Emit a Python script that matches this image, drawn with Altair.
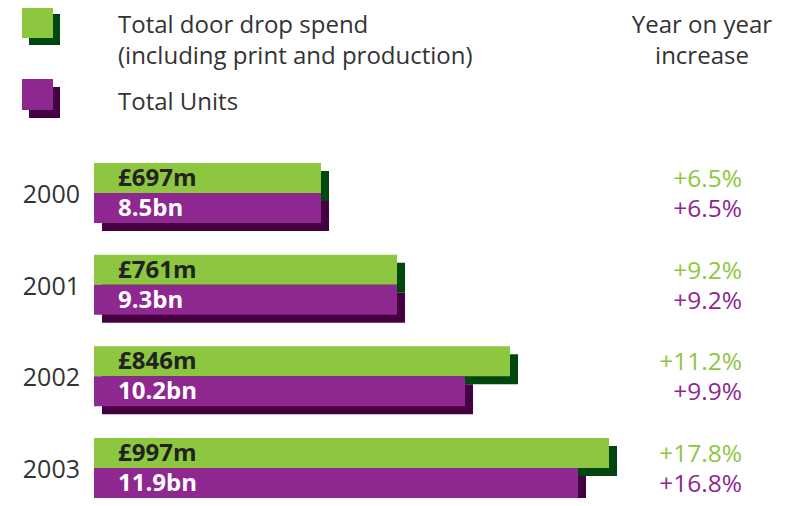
import altair as alt
import pandas as pd

# ---- data ----
years = ["2000", "2001", "2002", "2003"]
spend_labels = ["£697m", "£761m", "£846m", "£997m"]
units_labels = ["8.5bn", "9.3bn", "10.2bn", "11.9bn"]
# bar lengths as drawn in the original (not to scale with the labels)
spend_bar = [227, 303, 416, 515]
units_bar = [227, 303, 371, 484]
spend_yoy = ["+6.5%", "+9.2%", "+11.2%", "+17.8%"]
units_yoy = ["+6.5%", "+9.2%", "+9.9%", "+16.8%"]
series = ["spend", "units"]

rows = []
for i, yr in enumerate(years):
    rows.append(dict(year=yr, series="spend", length=spend_bar[i], label=spend_labels[i], yoy=spend_yoy[i]))
    rows.append(dict(year=yr, series="units", length=units_bar[i], label=units_labels[i], yoy=units_yoy[i]))
df = pd.DataFrame(rows)

GREEN = "#8dc63f"
DKGREEN = "#00460f"
PURPLE = "#8e278f"
DKPURPLE = "#440040"
GREY = "#333333"
FONT = "Open Sans"

XMAX = max(spend_bar)


def xenc(shift=0):
    return alt.X("length:Q", scale=alt.Scale(domain=[0, XMAX], range=[86 + shift, 86 + XMAX + shift]), axis=None)


def yenc(shift=0):
    return alt.Y("year:N", scale=alt.Scale(type="band", domain=years, range=[155 + shift, 490 + shift],
                                           paddingInner=0.3455, paddingOuter=0), axis=None)


yoff = alt.YOffset("series:N", scale=alt.Scale(type="band", domain=series, paddingInner=0, paddingOuter=0))

base = alt.Chart(df)

shadow_g = base.transform_filter("datum.series == 'spend'").mark_bar(color=DKGREEN).encode(
    x=xenc(8), y=yenc(8), yOffset=yoff)
shadow_p = base.transform_filter("datum.series == 'units'").mark_bar(color=DKPURPLE).encode(
    x=xenc(8), y=yenc(8), yOffset=yoff)
bar_g = base.transform_filter("datum.series == 'spend'").mark_bar(color=GREEN).encode(
    x=xenc(), y=yenc(), yOffset=yoff)
bar_p = base.transform_filter("datum.series == 'units'").mark_bar(color=PURPLE).encode(
    x=xenc(), y=yenc(), yOffset=yoff)

lab_g = base.transform_filter("datum.series == 'spend'").mark_text(
    align="left", baseline="middle", font=FONT, fontSize=24, fontWeight="bold", color="#222222", dy=1
).encode(x=alt.value(110), y=yenc(), yOffset=yoff, text="label:N")
lab_p = base.transform_filter("datum.series == 'units'").mark_text(
    align="left", baseline="middle", font=FONT, fontSize=24, fontWeight="bold", color="#ffffff", dy=1
).encode(x=alt.value(110), y=yenc(), yOffset=yoff, text="label:N")

yoy_g = base.transform_filter("datum.series == 'spend'").mark_text(
    align="right", baseline="middle", font=FONT, fontSize=24.5, color=GREEN, dy=2
).encode(x=alt.value(734), y=yenc(), yOffset=yoff, text="yoy:N")
yoy_p = base.transform_filter("datum.series == 'units'").mark_text(
    align="right", baseline="middle", font=FONT, fontSize=24.5, color=PURPLE, dy=2
).encode(x=alt.value(734), y=yenc(), yOffset=yoff, text="yoy:N")

year_lab = base.transform_filter("datum.series == 'spend'").mark_text(
    align="right", baseline="middle", font=FONT, fontSize=25, color=GREY, dy=2
).encode(x=alt.value(72), y=yenc(), text="year:N")

# ---- legend and header ----
one = pd.DataFrame({"k": [0]})
lb = alt.Chart(one)
leg = [
    lb.mark_rect(color=DKGREEN).encode(x=alt.value(21), x2=alt.value(52), y=alt.value(6), y2=alt.value(37)),
    lb.mark_rect(color=GREEN).encode(x=alt.value(14), x2=alt.value(45), y=alt.value(-1), y2=alt.value(30)),
    lb.mark_rect(color=DKPURPLE).encode(x=alt.value(21), x2=alt.value(52), y=alt.value(79), y2=alt.value(110)),
    lb.mark_rect(color=PURPLE).encode(x=alt.value(14), x2=alt.value(45), y=alt.value(71), y2=alt.value(102)),
]
txt = dict(font=FONT, fontSize=24, color=GREY, baseline="alphabetic")
texts = [
    lb.mark_text(align="left", **txt).encode(x=alt.value(110), y=alt.value(25), text=alt.value("Total door drop spend")),
    lb.mark_text(align="left", **txt).encode(x=alt.value(110), y=alt.value(56), text=alt.value("(including print and production)")),
    lb.mark_text(align="left", **txt).encode(x=alt.value(110), y=alt.value(102), text=alt.value("Total Units")),
    lb.mark_text(align="center", **txt).encode(x=alt.value(694), y=alt.value(25), text=alt.value("Year on year")),
    lb.mark_text(align="center", **txt).encode(x=alt.value(694), y=alt.value(56), text=alt.value("increase")),
]

chart = alt.layer(
    shadow_g, shadow_p, bar_g, bar_p, lab_g, lab_p, yoy_g, yoy_p, year_lab, *leg, *texts
).resolve_scale(x="independent", y="independent").properties(
    width=781, height=490, padding=0,
    autosize=alt.AutoSizeParams(type="none"),
).configure_view(stroke=None)

chart.save("out.html", embed_options={"renderer": "svg", "actions": False})
